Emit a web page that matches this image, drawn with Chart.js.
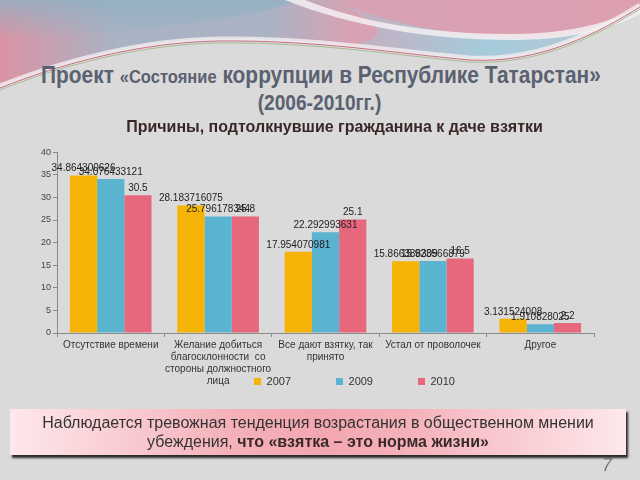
<!DOCTYPE html>
<html>
<head>
<meta charset="utf-8">
<script src="https://cdn.jsdelivr.net/npm/chart.js@4"></script>
<style>
  body { margin: 0; width: 640px; height: 480px; background: #dadada; position: relative; overflow: hidden; font-family: "Liberation Sans", Arial, sans-serif; }
  #decor { position: absolute; left: 0; top: 0; }
  #slideTitle { position: absolute; left: 0; top: 62px; width: 640px; text-align: center; white-space: nowrap; color: #5a6170; font-weight: bold; font-size: 24px; line-height: 25px; transform: scaleX(0.87); transform-origin: 316px 0; }
  #slideTitle .small { font-size: 19px; }
  #slideTitle .year { font-size: 22px; }
  #chartBox { position: absolute; left: 18px; top: 112px; width: 612px; height: 343px; }
  #note { position: absolute; left: 10px; top: 409px; width: 616px; height: 46px; box-sizing: border-box; background: linear-gradient(to right, #fde8eb 0%, #f5b2ba 35%, #f3a6b0 50%, #f5b2ba 65%, #fde8eb 100%); box-shadow: 2px 3px 2px #2a2a2a; text-align: center; color: #333; font-size: 16px; line-height: 19px; padding-top: 4px; }
  #note b { color: #3a2a2a; }
  #page { position: absolute; left: 602px; top: 455px; font-size: 18px; font-style: italic; color: #777; }
</style>
</head>
<body>
<svg id="decor" width="640" height="120">
  <defs>
    <linearGradient id="band" x1="0" y1="0" x2="1" y2="0">
      <stop offset="0" stop-color="#dc93a4"/>
      <stop offset="0.18" stop-color="#a8b3c4"/>
      <stop offset="0.42" stop-color="#aab3c3"/>
      <stop offset="0.55" stop-color="#d7a2b3"/>
      <stop offset="1" stop-color="#dc9fb0"/>
    </linearGradient>
    <linearGradient id="shade" x1="0" y1="0" x2="0" y2="1">
      <stop offset="0" stop-color="#8fb1c3" stop-opacity="0.8"/>
      <stop offset="1" stop-color="#8fb1c3" stop-opacity="0"/>
    </linearGradient>
    <linearGradient id="sky" x1="0" y1="0" x2="1" y2="0">
      <stop offset="0" stop-color="#c9a9ba"/>
      <stop offset="0.5" stop-color="#9fd0e0"/>
      <stop offset="1" stop-color="#b9c8d2"/>
    </linearGradient>
  </defs>
  <path d="M0,0 H640 V5 C600,30 540,62 470,58 C400,52 320,38 220,39 C140,40 60,62 0,86 Z" fill="url(#band)"/>
  <path d="M0,0 H300 C250,20 150,30 0,40 Z" fill="url(#shade)"/>
  <path d="M330,0 C380,20 440,36 520,38 C570,38 610,28 640,12 V5 C600,30 540,62 470,58 C430,55 390,50 350,45 C380,40 400,30 330,0 Z" fill="url(#sky)" opacity="0.9"/>
  <path d="M285,0 H305 C360,22 430,34 510,34 C570,34 610,22 640,8 V14 C610,30 570,40 510,40 C430,40 350,26 285,0 Z" fill="#f4f0f2" opacity="0.85"/>
  <path d="M0,86 C60,62 140,40 220,39 C320,38 400,52 470,58 C540,62 600,30 640,5" fill="none" stroke="#f2eef0" stroke-width="5" opacity="0.8"/>
  <path d="M0,88 C60,64 140,42 220,41 C320,40 400,54 470,60 C540,64 600,32 640,7" fill="none" stroke="#c86a80" stroke-width="1"/>
  <path d="M0,90 C60,66 140,44 220,43 C320,42 400,56 470,62 C540,66 600,34 640,9" fill="none" stroke="#9bb67e" stroke-width="1" opacity="0.8"/>
</svg>
<div id="slideTitle">Проект <span class="small">«Состояние</span> коррупции в Республике Татарстан»<br><span class="year">(2006-2010гг.)</span></div>
<div id="chartBox"><canvas id="chart"></canvas></div>
<div id="note">Наблюдается тревожная тенденция возрастания в общественном мнении<br>убеждения, <b>что «взятка – это норма жизни»</b></div>
<div id="page">7</div>
<script>
const categories = [
  ["Отсутствие времени"],
  ["Желание добиться", "благосклонности  со", "стороны должностного", "лица"],
  ["Все дают взятку, так", "принято"],
  ["Устал от проволочек"],
  ["Другое"],
];
const years = ["2007", "2009", "2010"];
const values2007 = [34.864300626, 28.183716075, 17.954070981, 15.866388309, 3.131524008];
const values2009 = [34.076433121, 25.796178344, 22.292993631, 15.923566879, 1.910828025];
const values2010 = [30.5, 25.8, 25.1, 16.5, 2.2];
const yMax = 40;
const yStep = 5;

const colors = ["#f4b306", "#5ab3cf", "#e7677d"];

// value labels over each bar (no datalabels plugin offline)
const valueLabels = {
  id: "valueLabels",
  afterDatasetsDraw(chart) {
    const ctx = chart.ctx;
    ctx.save();
    ctx.font = "10px 'Liberation Sans', Arial, sans-serif";
    ctx.fillStyle = "#222";
    ctx.textAlign = "center";
    ctx.textBaseline = "bottom";
    chart.data.datasets.forEach((ds, i) => {
      chart.getDatasetMeta(i).data.forEach((bar, j) => {
        ctx.fillText(String(ds.data[j]), bar.x, bar.y - 2);
      });
    });
    ctx.restore();
  },
};

// move title / legend like on the slide (legend sits beside the long label)
const nudge = {
  id: "nudge",
  afterLayout(chart) {
    chart.titleBlock.left += 18;
    chart.titleBlock.right += 18;
    chart.legend.left += 38;
    chart.legend.right += 38;
    chart.legend.top -= 58;
    chart.legend.bottom -= 58;
  },
};

const chart = new Chart(document.getElementById("chart"), {
  type: "bar",
  data: {
    labels: categories,
    datasets: [
      { label: years[0], data: values2007, backgroundColor: colors[0] },
      { label: years[1], data: values2009, backgroundColor: colors[1] },
      { label: years[2], data: values2010, backgroundColor: colors[2] },
    ],
  },
  options: {
    responsive: true,
    maintainAspectRatio: false,
    animation: false,
    categoryPercentage: 0.76,
    barPercentage: 1,
    layout: { padding: { left: 21, right: 36, top: 0, bottom: 0 } },
    plugins: {
      title: {
        display: true,
        text: "Причины, подтолкнувшие гражданина к даче взятки",
        color: "#3a2828",
        font: { size: 16, weight: "bold", family: "'Liberation Sans', Arial, sans-serif" },
        padding: { top: 6, bottom: 15 },
      },
      legend: {
        position: "bottom",
        labels: {
          boxWidth: 7,
          boxHeight: 7,
          padding: 45,
          color: "#333",
          font: { size: 11 },
        },
      },
      tooltip: { enabled: false },
    },
    scales: {
      x: {
        grid: { drawOnChartArea: false, tickLength: 4, color: "#8a8a8a" },
        border: { color: "#8a8a8a" },
        ticks: { color: "#333", font: { size: 10 }, maxRotation: 0, autoSkip: false, padding: 2 },
        afterFit(scale) { scale.height = 56; },
      },
      y: {
        min: 0,
        max: yMax,
        grid: { drawOnChartArea: false, tickLength: 4, color: "#8a8a8a" },
        border: { color: "#8a8a8a" },
        ticks: { stepSize: yStep, color: "#444", font: { size: 9 }, padding: 2 },
      },
    },
  },
  plugins: [valueLabels, nudge],
});
</script>
</body>
</html>
